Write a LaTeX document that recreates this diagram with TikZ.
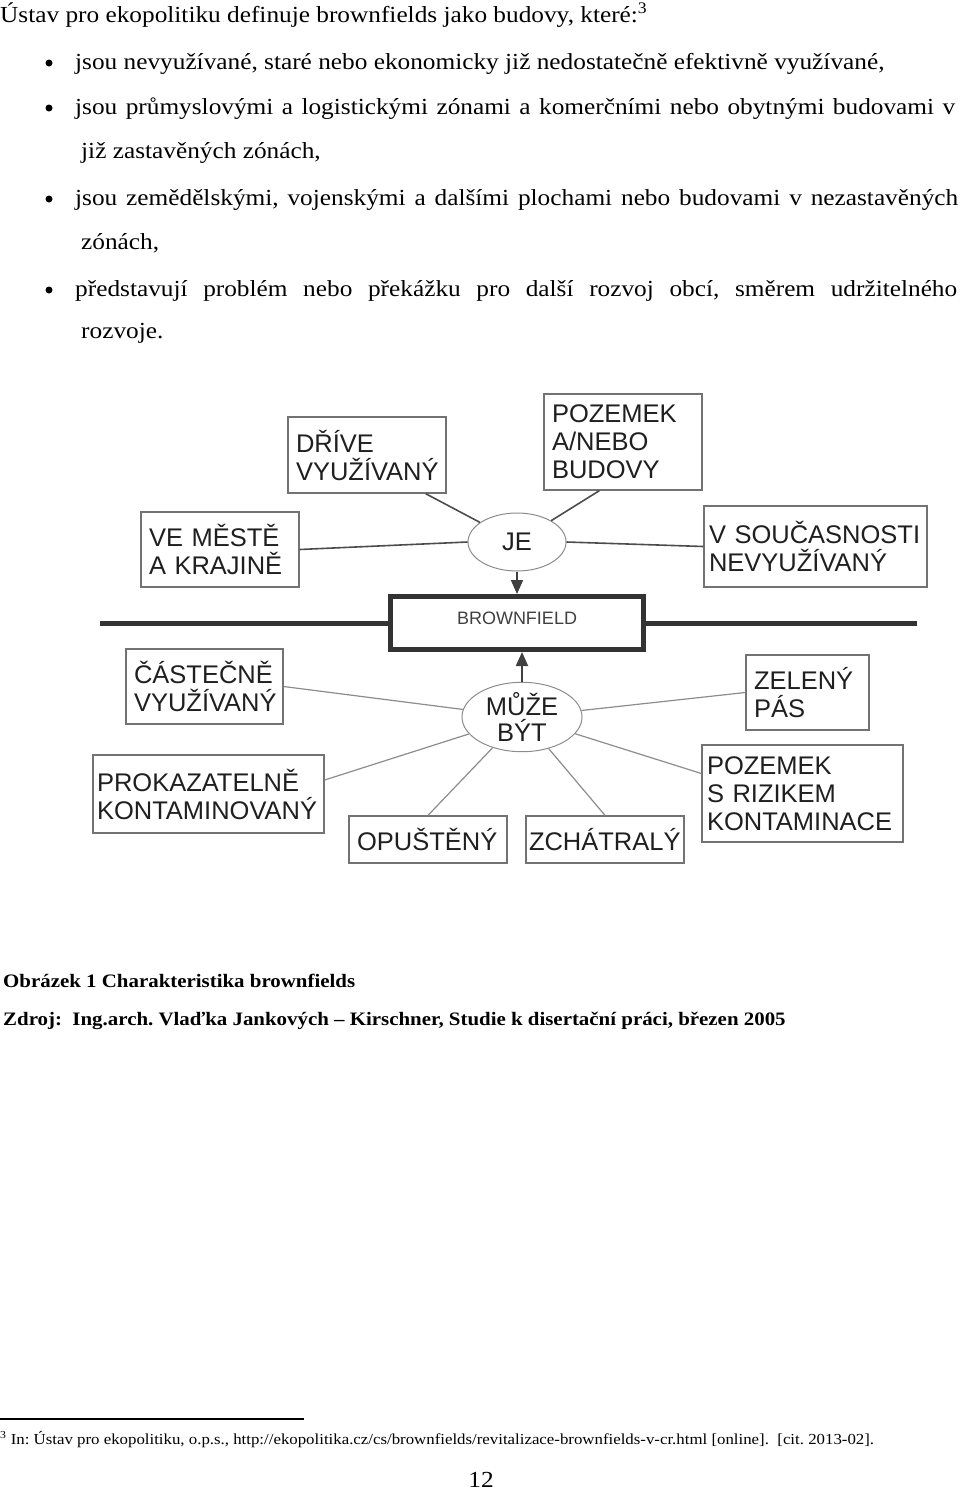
\documentclass[tikz,border=0pt]{standalone}
\usepackage{fontspec}
\setmainfont[FakeStretch=1.1]{Liberation Serif}
\newfontfamily\arial{Liberation Sans}
\usetikzlibrary{arrows.meta,shapes.geometric,calc}
\frenchspacing
\begin{document}
\begin{tikzpicture}[x=1pt,y=-1pt,
  body/.style={anchor=base west,inner sep=0pt,font=\fontsize{23}{26}\selectfont},
  bul/.style={circle,fill=black,inner sep=0pt,minimum size=7pt},
  box/.style={draw=black!55,line width=1.3pt,rectangle,inner xsep=8pt,inner ysep=0pt,align=left,font=\arial\fontsize{25.5}{28}\selectfont,text=black!88},
  oval/.style={draw=black!45,line width=1pt,ellipse,inner sep=0pt,align=center,font=\arial\fontsize{25.5}{26}\selectfont,text=black!88},
  upline/.style={draw=black!70,line width=1.6pt},
  lowline/.style={draw=black!45,line width=1.2pt},
  arr/.style={draw=black!75,line width=1.8pt,-{Triangle[width=12pt,length=14pt]}},
  thick line/.style={draw=black!80,line width=5pt},
]
\useasboundingbox (0,0) rectangle (960,1491);
% ---------------- text ----------------
\node[body] (t1) at (0,23) {Ústav pro ekopolitiku definuje brownfields jako budovy, které:\textsuperscript{3}};
\node[bul] (b1) at (49,63) {};
\node[body] (t2) at (75,69) {jsou nevyužívané, staré nebo ekonomicky již nedostatečně efektivně využívané,};
\node[bul] (b2) at (49,108) {};
\node[body] (t3) at (75,114) {\makebox[880pt][s]{jsou průmyslovými a logistickými zónami a komerčními nebo obytnými budovami v}};
\node[body] (t4) at (81,158) {již zastavěných zónách,};
\node[bul] (b3) at (49,199) {};
\node[body] (t5) at (75,205) {\makebox[883pt][s]{jsou zemědělskými, vojenskými a dalšími plochami nebo budovami v nezastavěných}};
\node[body] (t6) at (81,249) {zónách,};
\node[bul] (b4) at (49,290) {};
\node[body] (t7) at (75,296) {\makebox[882pt][s]{představují problém nebo překážku pro další rozvoj obcí, směrem udržitelného}};
\node[body] (t8) at (81,338) {rozvoje.};
% ---------------- diagram ----------------
\coordinate (hl) at (100,623);
\coordinate (hr) at (917,623);
\draw[thick line] (hl) -- (hr);
\node[draw=black!80,line width=5pt,fill=white,minimum width=253pt,minimum height=53pt,inner sep=0pt] (brown) at (517,623) {};
\node[anchor=base,inner sep=0pt,font=\arial\fontsize{18}{20}\selectfont,text=black!75] (bt) at (517,624) {BROWNFIELD};

\node[box,minimum width=158pt,minimum height=76pt,text width=142pt] (dri) at (367,455) {DŘÍVE\\VYUŽÍVANÝ};
\node[box,minimum width=158pt,minimum height=96pt,text width=142pt] (poz) at (623,442) {POZEMEK\\A/NEBO\\BUDOVY};
\node[box,minimum width=158pt,minimum height=75pt,text width=142pt] (ve) at (220,549.5) {VE MĚSTĚ\\A KRAJINĚ};
\node[box,minimum width=223pt,minimum height=81pt,text width=213pt,inner xsep=5pt] (vsou) at (815.5,546.5) {\mbox{V SOUČASNOSTI}\\NEVYUŽÍVANÝ};
\node[oval,minimum width=98pt,minimum height=58pt] (je) at (517,542) {JE};

\draw[upline] ([xshift=-21pt]dri.south east) -- (je);
\draw[upline] ([xshift=56pt]poz.south west) -- (je);
\draw[upline] (ve.east) -- (je.west);
\draw[upline] (vsou.west) -- (je.east);
\draw[arr] (je.south) -- (je.south |- brown.north);

\node[box,minimum width=157pt,minimum height=75pt,text width=141pt] (cast) at (204.5,686.5) {ČÁSTEČNĚ\\VYUŽÍVANÝ};
\node[box,minimum width=231pt,minimum height=78pt,text width=223pt,inner xsep=4pt] (prok) at (208.5,794) {PROKAZATELNĚ\\KONTAMINOVANÝ};
\node[box,minimum width=158pt,minimum height=47pt,text width=142pt] (opu) at (428,839.5) {OPUŠTĚNÝ};
\node[box,minimum width=158pt,minimum height=47pt,text width=152pt,inner xsep=3pt] (zch) at (605,839.5) {ZCHÁTRALÝ};
\node[box,minimum width=123pt,minimum height=75pt,text width=107pt] (zel) at (807.5,692.5) {ZELENÝ\\PÁS};
\node[box,minimum width=201pt,minimum height=97pt,text width=191pt,inner xsep=5pt] (pozr) at (802.5,793.5) {POZEMEK\\S RIZIKEM\\KONTAMINACE};
\node[oval,minimum width=120pt,minimum height=62pt] (muze) at (522,717) {MŮŽE\\BÝT};

\draw[lowline] (cast.east) -- (muze);
\draw[lowline] ([yshift=14pt]prok.east) -- (muze);
\draw[lowline] (opu.north) -- (muze);
\draw[lowline] (zch.north) -- (muze);
\draw[lowline] (zel.west) -- (muze);
\draw[lowline] ([yshift=20pt]pozr.west) -- (muze);
\draw[arr] (muze.north) -- (muze.north |- brown.south);

% ---------------- caption ----------------
\node[body,font=\bfseries\fontsize{19}{22}\selectfont] (c1) at (3,987) {Obrázek 1 Charakteristika brownfields};
\node[body,font=\bfseries\fontsize{19}{22}\selectfont] (c2) at (3,1025) {Zdroj:\ \ Ing.arch. Vlaďka Jankových – Kirschner, Studie k disertační práci, březen 2005};
% ---------------- footnote ----------------
\coordinate (f1) at (0,1419);
\coordinate (f2) at (304,1419);
\draw[line width=1.2pt] (f1) -- (f2);
\node[body,font=\fontsize{15.3}{18}\selectfont] (fn) at (0,1444) {\textsuperscript{3} In: Ústav pro ekopolitiku, o.p.s., http://ekopolitika.cz/cs/brownfields/revitalizace-brownfields-v-cr.html [online].\ \ [cit. 2013-02].};
\node[body,anchor=base] (pg) at (481,1487) {12};
\end{tikzpicture}
\end{document}
